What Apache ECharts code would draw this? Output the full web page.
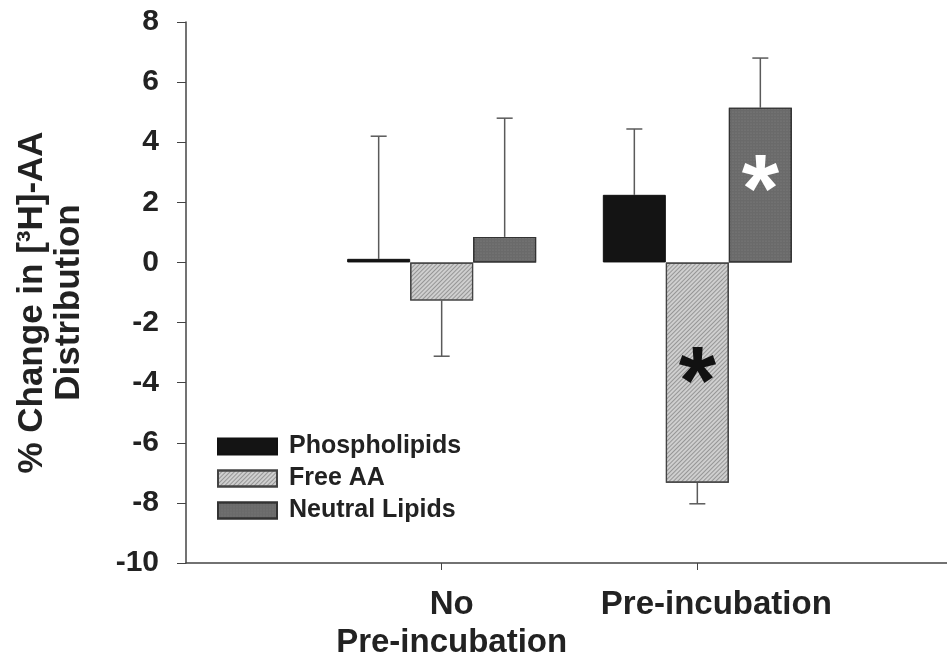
<!DOCTYPE html>
<html>
<head>
<meta charset="utf-8">
<script src="https://cdn.jsdelivr.net/npm/echarts@6/dist/echarts.min.js"></script>
<style>
	html, body { margin: 0; padding: 0; background: #fff; }
	#chart { width: 947px; height: 663px; }
</style>
</head>
<body>
<div id="chart"></div>
<script>
	// categories (empty ones pad the axis on both sides)
	var categories = ['', 'No\nPre-incubation', 'Pre-incubation', ''];

	// bar values, % change
	var phospholipids = [null, 0.12, 2.25, null];
	var freeAA = [null, -1.27, -7.33, null];
	var neutralLipids = [null, 0.85, 5.15, null];

	// error bar end values
	var phosphoErr = [null, 4.2, 4.44, null];
	var freeAAErr = [null, -3.12, -8.03, null];
	var neutralErr = [null, 4.8, 6.8, null];

	// significance stars (value where the * sits)
	var freeAAStar = [null, null, -3.5, null];
	var neutralStar = [null, null, 2.9, null];

	var FONT = '"Liberation Sans", Arial, sans-serif';
	var BAR_W = 63;

	var myChart = echarts.init(document.getElementById('chart'));

	function barData(values, stars, starColor) {
		return values.map(function(v, i) {
			if (v === null) return null;
			var item = { value: v };
			if (stars && stars[i] !== null) {
				item.label = {
					show: true,
					position: 'inside',
					formatter: '*',
					fontSize: 96,
					fontWeight: 'bold',
					fontFamily: FONT,
					color: starColor,
					offset: [0, 0]
				};
				item.starValue = stars[i];
			}
			return item;
		});
	}

	function errData(base, ends) {
		var out = [];
		base.forEach(function(v, i) {
			if (v !== null) out.push([i, v, ends[i]]);
		});
		return out;
	}

	function errSeries(base, ends, dx) {
		return {
			type: 'custom',
			silent: true,
			z: 1,
			data: errData(base, ends),
			encode: { x: 0, y: [1, 2] },
			renderItem: function(params, api) {
				var p0 = api.coord([api.value(0), api.value(1)]);
				var p1 = api.coord([api.value(0), api.value(2)]);
				var x = p0[0] + dx;
				var style = { stroke: '#5a5a5a', lineWidth: 1.5 };
				return {
					type: 'group',
					children: [{
						type: 'line',
						shape: { x1: x, y1: p0[1], x2: x, y2: p1[1] },
						style: style
					}, {
						type: 'line',
						shape: { x1: x - 8, y1: p1[1], x2: x + 8, y2: p1[1] },
						style: style
					}]
				};
			}
		};
	}

	var option = {
		animation: false,
		textStyle: { fontFamily: FONT },
		grid: { left: 186, right: -6, top: 22, bottom: 100, outerBoundsMode: 'none', containLabel: false },
		legend: {
			orient: 'vertical',
			left: 212,
			top: 429,
			icon: 'rect',
			itemWidth: 59,
			itemHeight: 16,
			itemGap: 7,
			data: ['Phospholipids', 'Free AA', 'Neutral Lipids'],
			textStyle: { fontFamily: FONT, fontSize: 25, fontWeight: 'bold', color: '#222', padding: [0, 0, 0, 7] }
		},
		xAxis: {
			type: 'category',
			data: categories,
			boundaryGap: false,
			axisLine: { onZero: false, lineStyle: { color: '#444', width: 1.5 } },
			axisTick: {
				length: 7,
				interval: function(idx) { return idx === 1 || idx === 2; },
				lineStyle: { color: '#444' }
			},
			axisLabel: {
				interval: 0,
				margin: 23,
				fontSize: 33,
				fontWeight: 'bold',
				fontFamily: FONT,
				color: '#222',
				lineHeight: 38,
				formatter: function(val, idx) {
					return idx === 1 ? '{a|' + val.split('\n').join('}\n{a|') + '}' : '{b|' + val + '}';
				},
				rich: {
					a: { fontSize: 33, fontWeight: 'bold', fontFamily: FONT, color: '#222', lineHeight: 38, padding: [0, 0, 0, 20] },
					b: { fontSize: 33, fontWeight: 'bold', fontFamily: FONT, color: '#222', lineHeight: 38, padding: [0, 0, 0, 38] }
				}
			}
		},
		yAxis: {
			type: 'value',
			min: -10,
			max: 8,
			interval: 2,
			name: '% Change in [³H]-AA\nDistribution',
			nameLocation: 'middle',
			nameGap: 98,
			nameMoveOverlap: false,
			nameTextStyle: { fontSize: 35, fontWeight: 'bold', fontFamily: FONT, color: '#222', lineHeight: 37, padding: [0, 20, 0, 0] },
			splitLine: { show: false },
			axisLine: { show: true, onZero: false, lineStyle: { color: '#444', width: 1.5 } },
			axisTick: { show: true, length: 9, lineStyle: { color: '#444' } },
			axisLabel: { fontSize: 30, fontWeight: 'bold', fontFamily: FONT, color: '#222', margin: 27 }
		},
		series: [{
			name: 'Phospholipids',
			type: 'bar',
			barWidth: BAR_W,
			barGap: '0%',
			z: 2,
			itemStyle: { color: '#141414', borderColor: '#111', borderWidth: 1 },
			data: barData(phospholipids)
		}, {
			name: 'Free AA',
			type: 'bar',
			barWidth: BAR_W,
			barGap: '0%',
			z: 2,
			itemStyle: {
				color: '#cfcfcf',
				borderColor: '#444',
				borderWidth: 1.2,
				decal: {
					symbol: 'rect',
					color: 'rgba(80,80,80,0.45)',
					dashArrayX: [1, 0],
					dashArrayY: [1, 2],
					rotation: -Math.PI / 4
				}
			},
			data: barData(freeAA, freeAAStar, '#111')
		}, {
			name: 'Neutral Lipids',
			type: 'bar',
			barWidth: BAR_W,
			barGap: '0%',
			z: 2,
			itemStyle: {
				color: '#6a6a6a',
				borderColor: '#333',
				borderWidth: 1.2,
				decal: {
					symbol: 'circle',
					symbolSize: 0.6,
					color: 'rgba(150,150,150,0.6)',
					dashArrayX: [2, 1],
					dashArrayY: [2, 1]
				}
			},
			data: barData(neutralLipids, neutralStar, '#fff')
		},
		errSeries(phospholipids, phosphoErr, -BAR_W),
		errSeries(freeAA, freeAAErr, 0),
		errSeries(neutralLipids, neutralErr, BAR_W)
		]
	};

	// put each star at its value: shift label from bar centre
	myChart.setOption(option);
	[1, 2].forEach(function(si) {
		var s = option.series[si];
		s.data.forEach(function(item, i) {
			if (item && item.starValue !== undefined) {
				var mid = myChart.convertToPixel({ gridIndex: 0 }, [i, item.value / 2])[1];
				var star = myChart.convertToPixel({ gridIndex: 0 }, [i, item.starValue])[1];
				// glyph sits high in its box, so push it down a bit
				item.label.offset = [0, star - mid + 19];
			}
		});
	});
	myChart.setOption(option);
</script>
</body>
</html>
